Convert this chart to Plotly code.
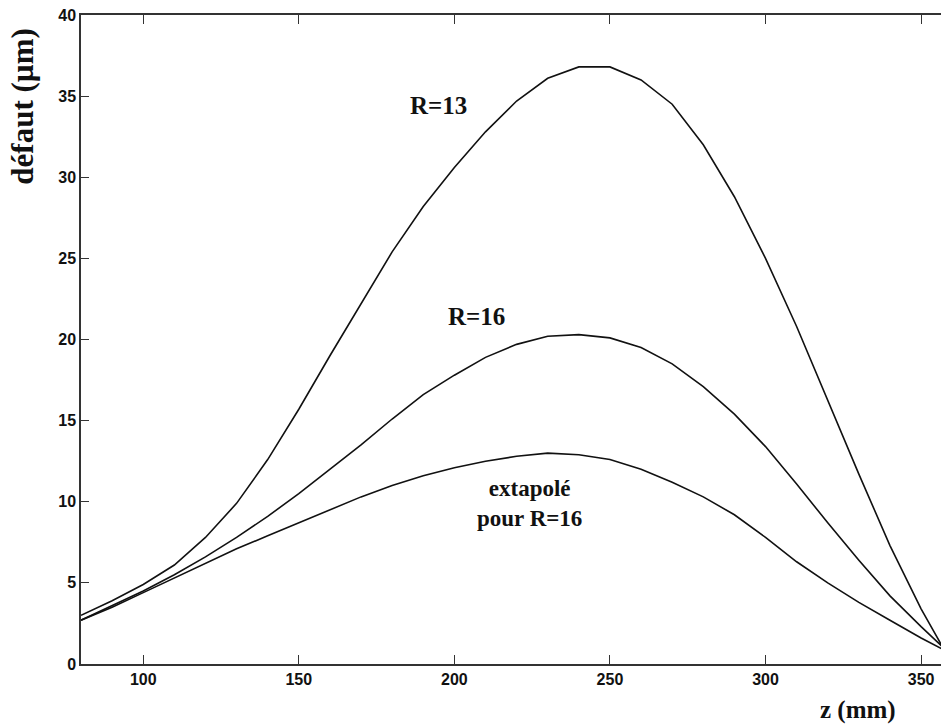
import plotly.graph_objects as go

z = [80, 90, 100, 110, 120, 130, 140, 150, 160, 170, 180, 190, 200, 210, 220,
     230, 240, 250, 260, 270, 280, 290, 300, 310, 320, 330, 340, 350, 360]

r13 = [3.0, 3.9, 4.9, 6.1, 7.8, 9.9, 12.6, 15.7, 19.0, 22.2, 25.4, 28.2, 30.6,
       32.8, 34.7, 36.1, 36.8, 36.8, 36.0, 34.5, 32.0, 28.8, 25.0, 20.8, 16.2,
       11.7, 7.3, 3.4, 0.0]

r16 = [2.7, 3.6, 4.5, 5.5, 6.6, 7.8, 9.1, 10.5, 12.0, 13.5, 15.1, 16.6, 17.8,
       18.9, 19.7, 20.2, 20.3, 20.1, 19.5, 18.5, 17.1, 15.4, 13.4, 11.1, 8.7,
       6.4, 4.2, 2.3, 0.5]

extrap = [2.7, 3.5, 4.4, 5.3, 6.2, 7.1, 7.9, 8.7, 9.5, 10.3, 11.0, 11.6, 12.1,
          12.5, 12.8, 13.0, 12.9, 12.6, 12.0, 11.2, 10.3, 9.2, 7.8, 6.3, 5.0,
          3.8, 2.7, 1.6, 0.6]

xticks = [100, 150, 200, 250, 300, 350]
yticks = [0, 5, 10, 15, 20, 25, 30, 35, 40]

fig = go.Figure()
for ys in (r13, r16, extrap):
    fig.add_trace(go.Scatter(x=z, y=ys, mode="lines",
                             line=dict(color="#111111", width=1.6),
                             showlegend=False, hoverinfo="skip"))

serif = "Liberation Serif"
ann_font = dict(family=serif, size=25, color="#111111")
fig.add_annotation(x=195, y=34.4, text="<b>R=13</b>", showarrow=False, font=ann_font)
fig.add_annotation(x=207, y=21.4, text="<b>R=16</b>", showarrow=False, font=ann_font)
fig.add_annotation(x=224, y=9.9, text="<b>extapolé<br>pour R=16</b>", showarrow=False,
                   font=dict(family=serif, size=23, color="#111111"))

fig.add_annotation(xref="paper", yref="paper", x=-0.068, y=0.858,
                   text="<b>défaut (µm)</b>", textangle=-90, showarrow=False,
                   xanchor="center", yanchor="middle",
                   font=dict(family=serif, size=31, color="#111111"))
fig.add_annotation(xref="paper", yref="paper", x=0.903, y=-0.071,
                   text="<b>z (mm)</b>", showarrow=False,
                   xanchor="center", yanchor="middle",
                   font=dict(family=serif, size=25, color="#111111"))

tickfont = dict(family="Liberation Sans", size=16, color="#111111", weight="bold")
fig.update_xaxes(range=[80, 356.4], tickvals=xticks, ticks="inside", ticklen=9,
                 tickcolor="#333333", showline=True, linecolor="#333333", linewidth=1.5,
                 mirror="ticks", showgrid=False, zeroline=False, tickfont=tickfont)
fig.update_yaxes(range=[0, 40], tickvals=yticks, ticks="inside", ticklen=8,
                 tickcolor="#333333", showline=True, linecolor="#333333", linewidth=1.5,
                 showgrid=False, zeroline=False, tickfont=tickfont)

fig.update_layout(width=941, height=725, margin=dict(l=81, r=0, t=15, b=61),
                  paper_bgcolor="white", plot_bgcolor="white")
fig.write_html("out.html", config={"displayModeBar": False},
               post_script="document.body.style.margin='0';document.body.style.overflow='hidden';")
